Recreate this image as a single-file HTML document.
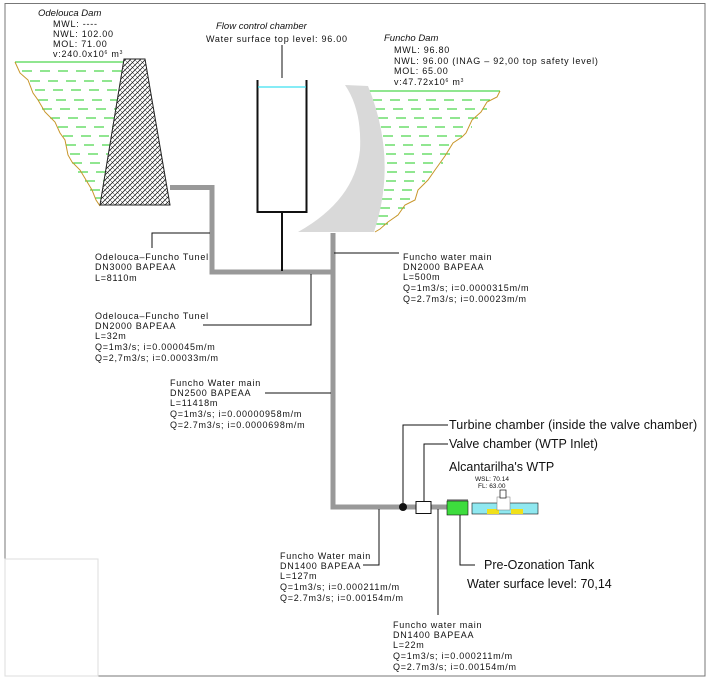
<!DOCTYPE html>
<html><head><meta charset="utf-8"><style>
html,body{margin:0;padding:0;background:#fff;}
svg{display:block;}
text{font-family:"Liberation Sans",sans-serif;fill:#111;}
.s{font-size:9px;letter-spacing:0.75px;}
.i{font-style:italic;font-size:9.5px;}
.b{font-size:12.5px;}
</style></head><body>
<svg width="711" height="694" viewBox="0 0 711 694" xmlns="http://www.w3.org/2000/svg">
<defs>
<pattern id="h" width="5" height="5" patternUnits="userSpaceOnUse">
<path d="M0,5 L5,0 M-1,1 L1,-1 M4,6 L6,4" stroke="#222" stroke-width="0.8"/>
<path d="M0,0 L5,5" stroke="#222" stroke-width="0.5"/>
</pattern>
</defs>
<rect x="0" y="0" width="711" height="694" fill="#fff"/>
<rect x="5" y="3.5" width="700" height="672.5" fill="none" stroke="#777" stroke-width="1"/>
<rect x="5" y="559" width="93" height="117" fill="none" stroke="#ddd" stroke-width="1"/>

<g stroke="#2c2" stroke-width="1">
<line x1="15" y1="62" x2="124" y2="62"/>
<line x1="22" y1="71" x2="123" y2="71" stroke-dasharray="10,8"/>
<line x1="30" y1="81" x2="121" y2="81" stroke-dasharray="10,8"/>
<line x1="35" y1="90" x2="120" y2="90" stroke-dasharray="10,8"/>
<line x1="38" y1="100" x2="118" y2="100" stroke-dasharray="10,8"/>
<line x1="42" y1="109" x2="117" y2="109" stroke-dasharray="10,8"/>
<line x1="50" y1="118" x2="115" y2="118" stroke-dasharray="10,8"/>
<line x1="58" y1="127" x2="113" y2="127" stroke-dasharray="10,8"/>
<line x1="63" y1="136" x2="111" y2="136" stroke-dasharray="10,8"/>
<line x1="66" y1="145" x2="110" y2="145" stroke-dasharray="10,8"/>
<line x1="70" y1="154" x2="108" y2="154" stroke-dasharray="10,8"/>
<line x1="72" y1="163" x2="107" y2="163" stroke-dasharray="10,8"/>
<line x1="78" y1="172" x2="105" y2="172" stroke-dasharray="10,8"/>
<line x1="85" y1="181" x2="104" y2="181" stroke-dasharray="10,8"/>
<line x1="90" y1="190" x2="102" y2="190" stroke-dasharray="10,8"/>
<line x1="95" y1="198" x2="101" y2="198"/>
</g>
<polyline points="15,62 20,73 28,80 33,93 38,100 45,112 55,122 60,133 65,140 68,155 72,162 80,170 86,180 92,190 96,200 100,206" fill="none" stroke="#c8962a" stroke-width="1"/>
<polygon points="124,59 145,59 170,205 100,205" fill="url(#h)" stroke="#222" stroke-width="1"/>

<g stroke="#2c2" stroke-width="1">
<line x1="369" y1="91" x2="500" y2="91"/>
<line x1="372" y1="100" x2="494" y2="100" stroke-dasharray="10,8"/>
<line x1="375" y1="109" x2="487" y2="109" stroke-dasharray="10,8"/>
<line x1="378" y1="118" x2="480" y2="118" stroke-dasharray="10,8"/>
<line x1="381" y1="127" x2="472" y2="127" stroke-dasharray="10,8"/>
<line x1="383" y1="136" x2="462" y2="136" stroke-dasharray="10,8"/>
<line x1="385" y1="145" x2="455" y2="145" stroke-dasharray="10,8"/>
<line x1="386" y1="154" x2="452" y2="154" stroke-dasharray="10,8"/>
<line x1="387" y1="163" x2="443" y2="163" stroke-dasharray="10,8"/>
<line x1="387" y1="172" x2="432" y2="172" stroke-dasharray="10,8"/>
<line x1="386" y1="181" x2="425" y2="181" stroke-dasharray="10,8"/>
<line x1="384" y1="190" x2="418" y2="190" stroke-dasharray="10,8"/>
<line x1="382" y1="199" x2="414" y2="199" stroke-dasharray="10,8"/>
<line x1="380" y1="208" x2="405" y2="208" stroke-dasharray="10,8"/>
<line x1="378" y1="216" x2="397" y2="216" stroke-dasharray="10,8"/>
<line x1="376" y1="224" x2="388" y2="224"/>
</g>
<polyline points="500,91 497,97 487,102 481,112 472,120 466,133 462,137 453,143 445,156 435,170 428,180 418,190 415,200 405,205 398,215 388,222 380,229 375,232" fill="none" stroke="#c8962a" stroke-width="1"/>
<path d="M345,85 L368,86 Q398,160 374,232 L298,232 Q355,200 360,150 Q362,110 345,85 Z" fill="#d9d9d9"/>

<g fill="none" stroke="#999" stroke-width="5">
<polyline points="170,187.5 212,187.5 212,272 333,272"/>
<polyline points="333,233 333,507 447,507"/>
</g>

<polyline points="257.5,80 257.5,212 306.5,212 306.5,80" fill="none" stroke="#111" stroke-width="2"/>
<line x1="258" y1="87" x2="306" y2="87" stroke="#3de0f0" stroke-width="1.2"/>
<line x1="282" y1="212" x2="282" y2="271" stroke="#111" stroke-width="2"/>
<line x1="282" y1="45" x2="282" y2="78" stroke="#111" stroke-width="1"/>

<g fill="none" stroke="#111" stroke-width="1">
<polyline points="152,248 152,233 210,233"/>
<polyline points="334,253 399,253"/>
<polyline points="203,325 311,325 311,274"/>
<polyline points="265,393 331,393"/>
<polyline points="363,565 379,565 379,509"/>
<polyline points="438,509 438,615"/>
<polyline points="403,503 403,425 448,425"/>
<polyline points="424,502 424,444 448,444"/>
<polyline points="460,515 460,565 475,565"/>
</g>

<circle cx="403" cy="507" r="4" fill="#111"/>
<rect x="416" y="501.5" width="15" height="12" fill="#fff" stroke="#111" stroke-width="1"/>

<rect x="447" y="501" width="21" height="14" fill="#3ddc3d" stroke="#111" stroke-width="0.6"/>
<line x1="447" y1="500" x2="468" y2="500" stroke="#111" stroke-width="0.8"/>
<rect x="472" y="503" width="66" height="11" fill="#8fe8f0" stroke="#111" stroke-width="0.6"/>
<rect x="487" y="509" width="12" height="5" fill="#f0e01a"/>
<rect x="511" y="509" width="12" height="5" fill="#f0e01a"/>
<rect x="497" y="497" width="13" height="13" fill="#fff" stroke="#777" stroke-width="0.5"/>
<rect x="500" y="490" width="6" height="8" fill="#fff" stroke="#111" stroke-width="0.7"/>

<text class="i" x="38" y="16">Odelouca Dam</text>
<text class="s" x="53" y="27">MWL: ----</text>
<text class="s" x="53" y="37">NWL: 102.00</text>
<text class="s" x="53" y="47">MOL: 71.00</text>
<text class="s" x="53" y="57">v:240.0x10<tspan font-size="5" dy="-3">6</tspan><tspan dy="3"> m</tspan><tspan font-size="5" dy="-3">3</tspan></text>

<text class="i" x="216" y="29">Flow control chamber</text>
<text class="s" x="206" y="42" letter-spacing="0.4">Water surface top level: 96.00</text>

<text class="i" x="384" y="41">Funcho Dam</text>
<text class="s" x="394" y="53">MWL: 96.80</text>
<text class="s" x="394" y="64">NWL: 96.00 (INAG – 92,00 top safety level)</text>
<text class="s" x="394" y="74">MOL: 65.00</text>
<text class="s" x="394" y="85">v:47.72x10<tspan font-size="5" dy="-3">6</tspan><tspan dy="3"> m</tspan><tspan font-size="5" dy="-3">3</tspan></text>

<text class="s" x="95" y="260">Odelouca–Funcho Tunel</text>
<text class="s" x="95" y="270">DN3000 BAPEAA</text>
<text class="s" x="95" y="281">L=8110m</text>

<text class="s" x="403" y="260">Funcho water main</text>
<text class="s" x="403" y="270">DN2000 BAPEAA</text>
<text class="s" x="403" y="280">L=500m</text>
<text class="s" x="403" y="291">Q=1m3/s;  i=0.0000315m/m</text>
<text class="s" x="403" y="302">Q=2.7m3/s;  i=0.00023m/m</text>

<text class="s" x="95" y="319">Odelouca–Funcho Tunel</text>
<text class="s" x="95" y="329">DN2000 BAPEAA</text>
<text class="s" x="95" y="339">L=32m</text>
<text class="s" x="95" y="350">Q=1m3/s;  i=0.000045m/m</text>
<text class="s" x="95" y="361">Q=2,7m3/s;  i=0.00033m/m</text>

<text class="s" x="170" y="386">Funcho Water main</text>
<text class="s" x="170" y="396">DN2500 BAPEAA</text>
<text class="s" x="170" y="406">L=11418m</text>
<text class="s" x="170" y="417">Q=1m3/s;  i=0.00000958m/m</text>
<text class="s" x="170" y="428">Q=2.7m3/s;  i=0.0000698m/m</text>

<text class="s" x="280" y="559">Funcho Water main</text>
<text class="s" x="280" y="569">DN1400 BAPEAA</text>
<text class="s" x="280" y="579">L=127m</text>
<text class="s" x="280" y="590">Q=1m3/s;  i=0.000211m/m</text>
<text class="s" x="280" y="601">Q=2.7m3/s;  i=0.00154m/m</text>

<text class="s" x="393" y="628">Funcho water main</text>
<text class="s" x="393" y="638">DN1400 BAPEAA</text>
<text class="s" x="393" y="648">L=22m</text>
<text class="s" x="393" y="659">Q=1m3/s;  i=0.000211m/m</text>
<text class="s" x="393" y="670">Q=2.7m3/s;  i=0.00154m/m</text>

<text class="b" x="449" y="429" letter-spacing="0.1">Turbine chamber (inside the valve chamber)</text>
<text class="b" x="449" y="448">Valve chamber (WTP Inlet)</text>
<text class="b" x="449" y="471">Alcantarilha's WTP</text>
<text x="475" y="481" font-size="6.5">WSL: 70.14</text>
<text x="478" y="488" font-size="6.5">FL: 63.00</text>
<text class="b" x="484" y="569">Pre-Ozonation Tank</text>
<text class="b" x="467" y="588">Water surface level: 70,14</text>
</svg>
</body></html>
